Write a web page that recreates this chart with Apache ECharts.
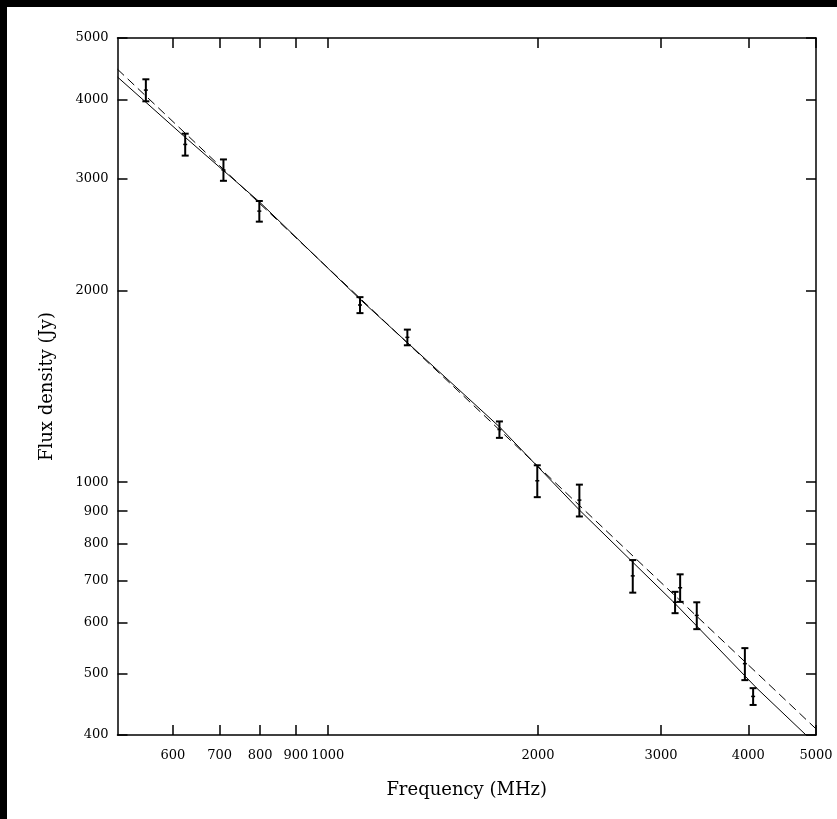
<!DOCTYPE html>
<html><head><meta charset="utf-8">
<script src="https://cdn.jsdelivr.net/npm/echarts@6/dist/echarts.min.js"></script>
<style>
html,body{margin:0;padding:0;background:#000;width:837px;height:819px;overflow:hidden}
#c{position:absolute;left:7px;top:7px;width:830px;height:812px;background:#fff}
</style></head><body><div id="c"></div>
<script>
// tick labels
const xTicks = [600, 700, 800, 900, 1000, 2000, 3000, 4000, 5000];
const yTicks = [400, 500, 600, 700, 800, 900, 1000, 2000, 3000, 4000, 5000];
// measurements
const freq    = [549, 625, 709, 798, 1112, 1300, 1761, 1995, 2292, 2733, 3142, 3195, 3375, 3955, 4064];
const flux    = [4140, 3400, 3100, 2670, 1900, 1690, 1210, 1005, 937, 712, 647, 682, 617, 518, 460];
const fluxErr = [165, 135, 120, 100, 55, 48, 36, 58, 54, 42, 25, 34, 30, 30, 14];
// solid fit
const solidFreq = [500, 625, 798, 1112, 1761, 2292, 3142, 4113, 4838];
const solidFlux = [4341, 3489, 2762, 1940, 1222, 904, 644, 474, 400];
// dashed fit (end points)
const dashFreq = [500, 5000];
const dashFlux = [4465, 409];

const OX = 7, OY = 7;
const FONT = 'DejaVu Serif';
const AX = {color: '#000', width: 1.5};
const fmt = v => String(Math.round(v));

const chart = echarts.init(document.getElementById('c'));
const baseX = {
  type: 'log', min: 500, max: 5000,
  axisLine: {show: true, lineStyle: AX},
  axisTick: {show: true, inside: true, length: 10, customValues: xTicks, lineStyle: AX},
  splitLine: {show: false}, minorTick: {show: false}
};
const baseY = {
  type: 'log', min: 400, max: 5000,
  axisLine: {show: true, lineStyle: AX},
  axisTick: {show: true, inside: true, length: 10, customValues: yTicks, lineStyle: AX},
  splitLine: {show: false}, minorTick: {show: false}
};
const tickFont = {fontFamily: FONT, fontSize: 13, fontWeight: 'normal', color: '#000'};
chart.setOption({
  animation: false,
  grid: {left: 117.5 - OX, top: 38 - OY, right: 837 - 816, bottom: 819 - 735, containLabel: false, outerBoundsMode: 'none'},
  xAxis: [
    Object.assign({}, baseX, {
      position: 'bottom',
      axisLabel: Object.assign({customValues: xTicks, formatter: fmt, margin: 14}, tickFont),
      name: 'Frequency (MHz)', nameLocation: 'middle', nameGap: 46,
      nameTextStyle: {fontFamily: FONT, fontSize: 18, color: '#000'}
    }),
    Object.assign({}, baseX, {position: 'top', axisLabel: {show: false}})
  ],
  yAxis: [
    Object.assign({}, baseY, {
      position: 'left',
      axisLabel: Object.assign({customValues: yTicks, formatter: fmt, margin: 9}, tickFont),
      name: 'Flux density (Jy)', nameLocation: 'middle', nameGap: 61, nameRotate: 90,
      nameTextStyle: {fontFamily: FONT, fontSize: 18, color: '#000'}
    }),
    Object.assign({}, baseY, {position: 'right', axisLabel: {show: false}})
  ],
  series: [
    {
      type: 'line', xAxisIndex: 0, yAxisIndex: 0, showSymbol: false, silent: true,
      data: solidFreq.map((f, i) => [f, solidFlux[i]]),
      lineStyle: {color: '#000', width: 1}
    },
    {
      type: 'line', xAxisIndex: 0, yAxisIndex: 0, showSymbol: false, silent: true,
      data: dashFreq.map((f, i) => [f, dashFlux[i]]),
      lineStyle: {color: '#000', width: 1, type: [9, 5]}
    },
    {
      type: 'custom', xAxisIndex: 0, yAxisIndex: 0, silent: true,
      data: freq.map((f, i) => [f, flux[i], fluxErr[i]]),
      encode: {x: 0, y: 1},
      renderItem: function (params, api) {
        const x = api.value(0), y = api.value(1), e = api.value(2);
        const t = api.coord([x, y + e]);
        const b = api.coord([x, y - e]);
        const c = api.coord([x, y]);
        const hw = 3.5;
        const st = {stroke: '#000', lineWidth: 2};
        return {
          type: 'group',
          children: [
            {type: 'line', shape: {x1: t[0], y1: t[1], x2: b[0], y2: b[1]}, style: st},
            {type: 'line', shape: {x1: t[0] - hw, y1: t[1], x2: t[0] + hw, y2: t[1]}, style: st},
            {type: 'line', shape: {x1: b[0] - hw, y1: b[1], x2: b[0] + hw, y2: b[1]}, style: st},
            {type: 'line', shape: {x1: c[0] - 2, y1: c[1], x2: c[0] + 2, y2: c[1]}, style: {stroke: '#000', lineWidth: 1.5}}
          ]
        };
      }
    }
  ]
});
</script></body></html>
